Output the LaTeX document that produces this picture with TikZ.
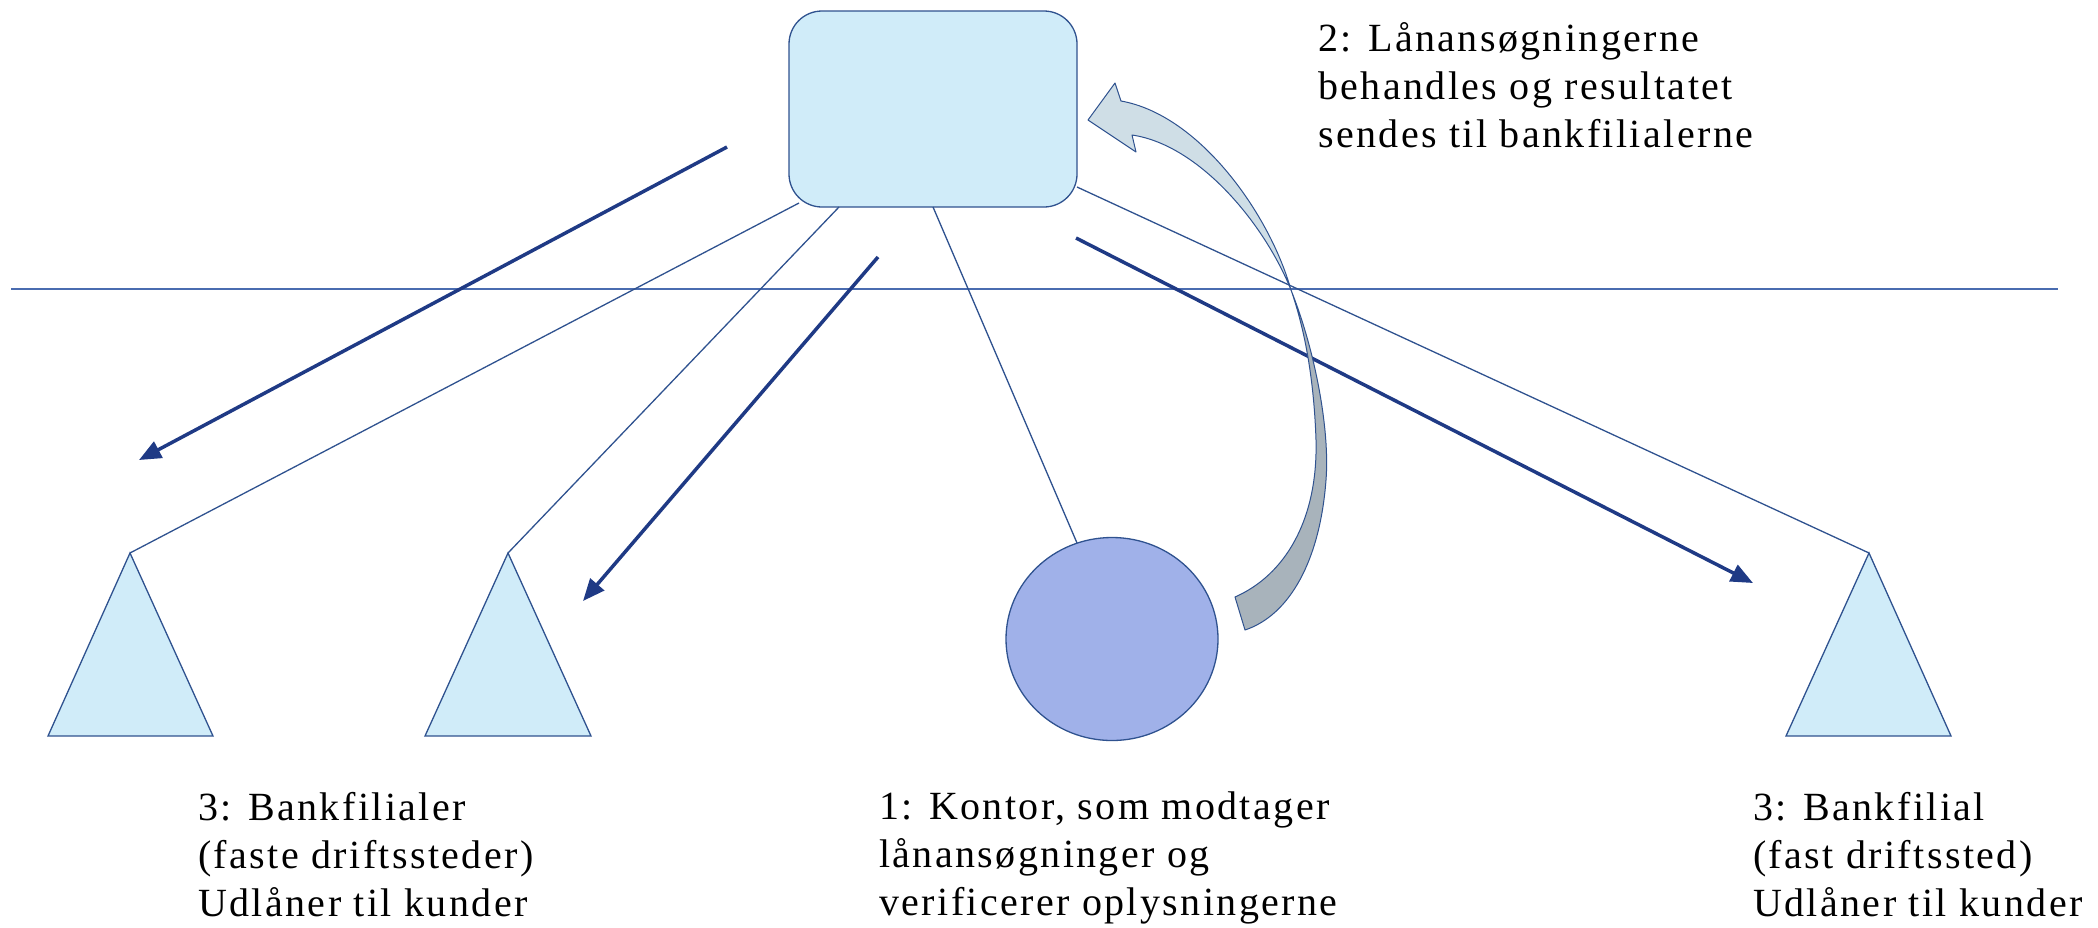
\documentclass[tikz,border=0pt]{standalone}
\usepackage{fontspec}
\setmainfont{Liberation Serif}
\usetikzlibrary{arrows.meta,shapes.geometric}

\definecolor{paleblue}{RGB}{208,236,249}
\definecolor{officefill}{RGB}{160,177,233}
\definecolor{edgeblue}{RGB}{47,82,143}
\definecolor{flowblue}{RGB}{31,58,133}
\definecolor{axisblue}{RGB}{74,108,176}
\definecolor{ribbonlight}{RGB}{207,222,230}
\definecolor{ribbondark}{RGB}{168,179,187}

\begin{document}
\begin{tikzpicture}[x=1pt,y=-1pt,
  link/.style={draw=edgeblue, line width=1.3pt},
  flowarrow/.style={draw=flowblue, line width=3.5pt,
    -{Triangle[length=22pt,width=18pt]}},
  palebox/.style={draw=edgeblue, line width=1.3pt, fill=paleblue},
  ribbon/.style={draw=edgeblue, line width=1pt, line join=round},
  note/.style={anchor=north west, inner sep=0pt, align=left,
    font=\fontsize{40}{48}\selectfont\addfontfeature{LetterSpace=6}},
]
\useasboundingbox (0,0) rectangle (2098,927);

% divider
\draw[axisblue, line width=1.6pt] (11,289) -- (2058,289);

% head office box
\node[palebox, rounded corners=33pt, minimum width=288pt, minimum height=196pt,
      inner sep=0pt] (hq) at (933,109) {};
\coordinate (hq1) at (799,203);
\coordinate (hq2) at (839,207);
\coordinate (hq3) at (933,207);
\coordinate (hq4) at (1077,187);

% bank branches
\draw[palebox] (130,553) -- (213,736) -- (48,736) -- cycle;
\draw[palebox] (508,553) -- (591,736) -- (425,736) -- cycle;
\draw[palebox] (1869,553) -- (1951,736) -- (1786,736) -- cycle;
\coordinate (t1) at (130,553);
\coordinate (t2) at (508,553);
\coordinate (t3) at (1869,553);

% loan office
\node[ellipse, draw=edgeblue, line width=1.3pt, fill=officefill,
      minimum width=212pt, minimum height=203pt, inner sep=0pt] (office) at (1112,639) {};
\coordinate (o1) at (1077,543);

% hierarchy links
\draw[link] (hq1) -- (t1);
\draw[link] (hq2) -- (t2);
\draw[link] (hq3) -- (o1);
\draw[link] (hq4) -- (t3);

% result flows
\coordinate (f1s) at (727,147);  \coordinate (f1e) at (139,460);
\coordinate (f2s) at (878,257);  \coordinate (f2e) at (583,601);
\coordinate (f3s) at (1076,238); \coordinate (f3e) at (1753,583);
\draw[flowarrow] (f1s) -- (f1e);
\draw[flowarrow] (f2s) -- (f2e);
\draw[flowarrow] (f3s) -- (f3e);

% twisted return arrow: lower part (back side of the ribbon)
\coordinate (twist) at (1291,290);
\filldraw[ribbon, fill=ribbondark]
  (1245,630) .. controls (1290,615) and (1320,560) .. (1326,480)
  .. controls (1330,430) and (1315,350) .. (twist)
  .. controls (1305,330) and (1314,380) .. (1316,440)
  .. controls (1318,520) and (1285,575) .. (1235,597)
  -- cycle;
% upper part with head
\filldraw[ribbon, fill=ribbonlight]
  (1121,101) -- (1115,83) -- (1088,120) -- (1136,152) -- (1132,135)
  .. controls (1200,145) and (1265,225) .. (twist)
  .. controls (1270,215) and (1200,115) .. (1121,101)
  -- cycle;

% labels
\node[note] (lbl2) at (1318,22) {2: Lånansøgningerne\\behandles og resultatet\\sendes til bankfilialerne};
\node[note] (lbl3a) at (198,792) {3: Bankfilialer\\(faste driftssteder)\\Udlåner til kunder};
\node[note] (lbl1) at (879,792) {1: Kontor, som modtager\\lånansøgninger og\\verificerer oplysningerne};
\node[note] (lbl3b) at (1753,792) {3: Bankfilial\\(fast driftssted)\\Udlåner til kunder};
\end{tikzpicture}
\end{document}
